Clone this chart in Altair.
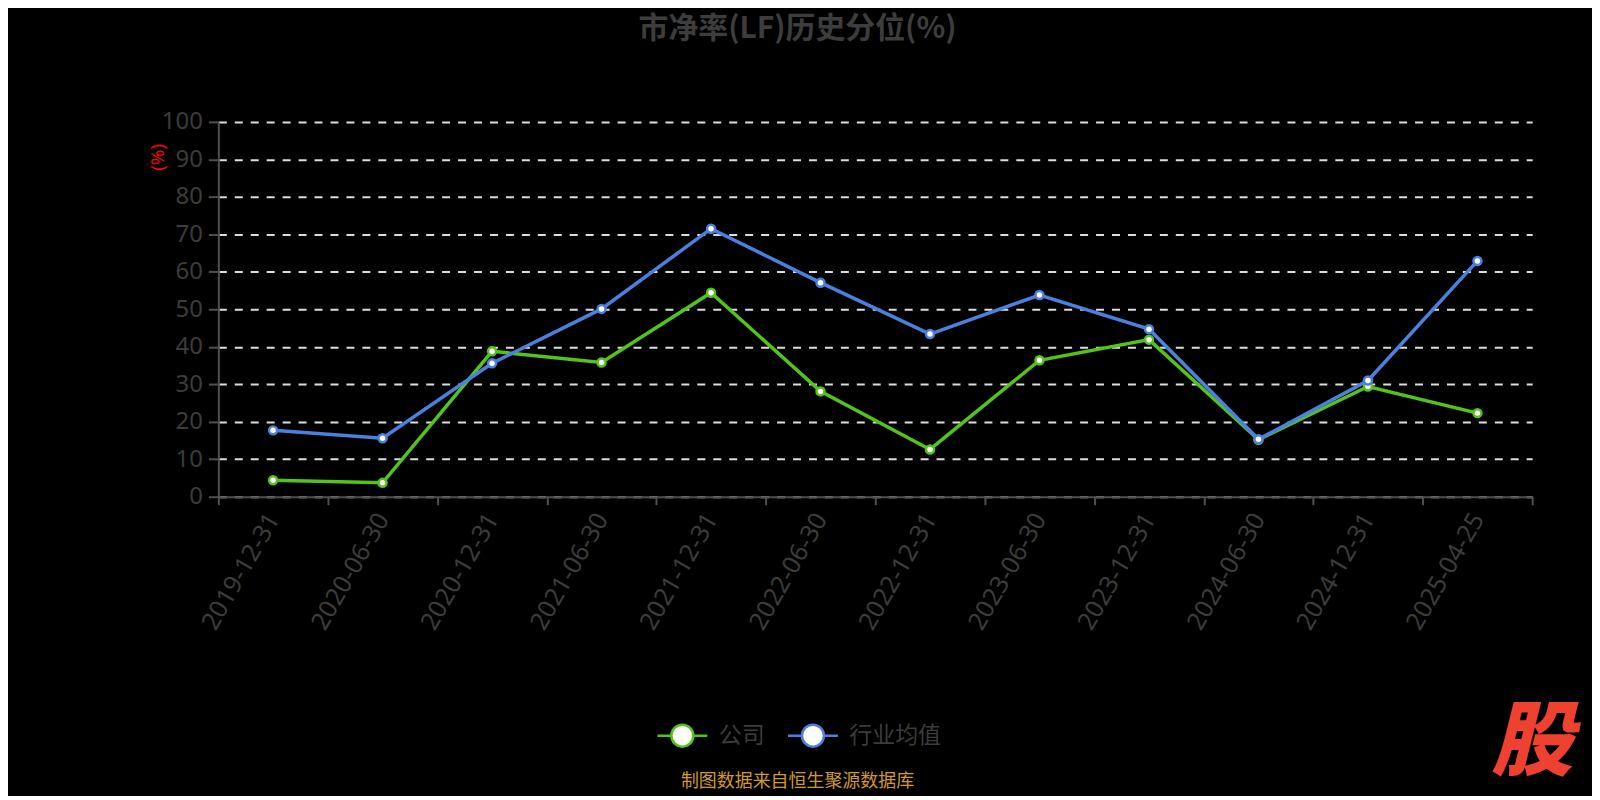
import altair as alt
import pandas as pd

dates = ["2019-12-31", "2020-06-30", "2020-12-31", "2021-06-30", "2021-12-31", "2022-06-30",
         "2022-12-31", "2023-06-30", "2023-12-31", "2024-06-30", "2024-12-31", "2025-04-25"]
company = [4.4, 3.7, 38.8, 35.8, 54.4, 28.1, 12.6, 36.4, 41.9, 15.2, 29.4, 22.3]
industry = [17.7, 15.6, 35.6, 50.1, 71.5, 57.1, 43.4, 53.8, 44.7, 15.3, 31.0, 62.9]
series_names = ["公司", "行业均值"]
series_colors = ["#52c41a", "#4a80e0"]
y_ticks = [0, 10, 20, 30, 40, 50, 60, 70, 80, 90, 100]

title_text = "市净率(LF)历史分位(%)"
source_text = "制图数据来自恒生聚源数据库"
logo_text = "股"

rows = []
for d, v in zip(dates, company):
    rows.append({"date": d, "value": v, "series": series_names[0]})
for d, v in zip(dates, industry):
    rows.append({"date": d, "value": v, "series": series_names[1]})
df = pd.DataFrame(rows)

W, H = 1318, 376
FONT = "Noto Sans"
CJK = "Noto Sans CJK SC"

legend_symbol = ("M-1,0L-0.44,0M0.44,0L1,0"
                 "M0.44,0A0.44,0.44 0 1 1 -0.44,0A0.44,0.44 0 1 1 0.44,0Z")

x_enc = alt.X("date:N", sort=dates, bandPosition=0.5,
              scale=alt.Scale(type="band", paddingInner=0, paddingOuter=0),
              axis=alt.Axis(title=None, labelAngle=-60, labelAlign="right", labelBaseline="middle",
                            labelFontSize=25, labelFont=FONT, labelColor="#3c3c3c",
                            labelPadding=10, tickBand="extent", tickSize=8, tickColor="#505050",
                            domainColor="#505050", domainWidth=2, tickWidth=2, grid=False))
y_enc = alt.Y("value:Q", scale=alt.Scale(domain=[0, 100], nice=False, zero=True),
              axis=alt.Axis(values=y_ticks, tickCount=20, labelOverlap=False,
                            title="(%)", titleColor="#ff0000", titleFontSize=19,
                            titleFont=FONT, titleFontWeight="normal", titleAngle=-90,
                            titleX=-61, titleY=35, titleAlign="center", titleBaseline="middle",
                            labelFontSize=24, labelFont=FONT, labelColor="#3c3c3c", labelPadding=6,
                            tickSize=10, tickColor="#505050", tickWidth=2,
                            domainColor="#505050", domainWidth=2,
                            grid=True, gridColor="#dddddd", gridDash=[8, 8], gridWidth=2))
color_scale = alt.Scale(domain=series_names, range=series_colors)
color_enc = alt.Color("series:N", sort=series_names, scale=color_scale,
                      legend=alt.Legend(title=None, orient="none", direction="horizontal",
                                        legendX=439, legendY=589, padding=0,
                                        symbolType=legend_symbol, symbolSize=2500,
                                        symbolFillColor="white", symbolStrokeWidth=2.5,
                                        labelFontSize=23, labelFont=CJK, labelColor="#3c3c3c",
                                        labelOffset=10, columnPadding=18))

lines = alt.Chart(df).mark_line(strokeWidth=3.5).encode(x=x_enc, y=y_enc, color=color_enc)
points = alt.Chart(df).mark_point(filled=True, fill="white", size=64, strokeWidth=2.5, opacity=1).encode(
    x=x_enc, y=y_enc,
    stroke=alt.Stroke("series:N", sort=series_names, scale=color_scale, legend=None))

txt_df = pd.DataFrame({"t": [title_text]})
title = alt.Chart(txt_df).mark_text(font=CJK, fontSize=30, fontWeight="bold", color="#3d3d3d",
                                    align="center", baseline="middle").encode(
    text="t:N", x=alt.value(581), y=alt.value(-93))
src_df = pd.DataFrame({"t": [source_text]})
source = alt.Chart(src_df).mark_text(font=CJK, fontSize=18, color="#d09a2c",
                                     align="center", baseline="middle").encode(
    text="t:N", x=alt.value(581), y=alt.value(662))
logo_df = pd.DataFrame({"t": [logo_text]})
logo = alt.Chart(logo_df).mark_text(font=CJK, fontSize=82, fontWeight=900, fontStyle="italic",
                                    color="#ee4130", align="center", baseline="middle").encode(
    text="t:N", x=alt.value(1318), y=alt.value(624))

chart = alt.layer(lines, points, title, source, logo).properties(
    width=W, height=H,
    autosize=alt.AutoSizeParams(type="none"),
    padding={"left": 211, "top": 113, "right": 60, "bottom": 299},
    background="#000000",
).configure_view(stroke=None)

chart.save("out.html", embed_options={"renderer": "svg", "actions": False})
